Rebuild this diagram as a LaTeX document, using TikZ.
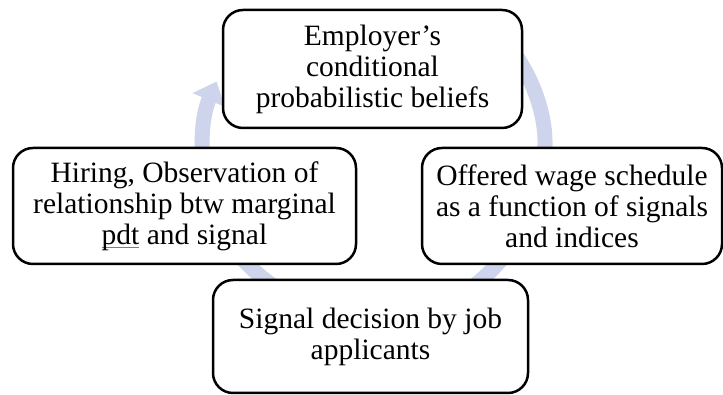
\documentclass[tikz,border=0pt]{standalone}
\usepackage{fontspec}
\setmainfont{Liberation Serif}
\usetikzlibrary{arrows.meta}
\definecolor{cyclering}{RGB}{206,212,235}
\definecolor{spellred}{RGB}{230,80,80}
% thin red mark under a flagged word
\newcommand{\spellflag}[1]{\setbox0\hbox{#1}\rlap{\textcolor{spellred}{\rule[-3.5pt]{\wd0}{0.6pt}}}#1}
\tikzset{
  stage/.style={draw=black, line width=2.5pt, rounded corners=20pt, fill=white,
    align=center, inner sep=0pt, font=\fontsize{29.5}{31}\selectfont},
  ringseg/.style={draw=cyclering, line width=15pt},
  ringtip/.style={-{Triangle[length=20pt,width=34pt]}},
}
\begin{document}
\begin{tikzpicture}[x=1pt,y=1pt]
\useasboundingbox (0,0) rectangle (723,395);
\coordinate (hub) at (373,247);
% circular flow behind the stages
\draw[ringseg, ringtip] ([shift={(200:170)}]hub) arc[start angle=200, end angle=157, radius=170];
\draw[ringseg, ringtip] ([shift={(50:170)}]hub) arc[start angle=50, end angle=-10, radius=170];
\draw[ringseg, ringtip] ([shift={(-35:170)}]hub) arc[start angle=-35, end angle=-70, radius=170];
\draw[ringseg, ringtip] ([shift={(-110:170)}]hub) arc[start angle=-110, end angle=-170, radius=170];
% stages of the cycle
\node[stage, minimum width=299pt, minimum height=118pt] (beliefs) at (372.5,326)
  {Employer's\\conditional\\probabilistic beliefs};
\node[stage, minimum width=300pt, minimum height=116pt] (wage) at (572,189)
  {Offered wage schedule\\as a function of signals\\and indices};
\node[stage, minimum width=315pt, minimum height=113pt] (signal) at (370.5,58.5)
  {Signal decision by job\\applicants};
\node[stage, minimum width=343pt, minimum height=116pt] (hiring) at (184.5,189)
  {Hiring, Observation of\\relationship btw marginal\\\spellflag{pdt} and signal};
\end{tikzpicture}
\end{document}
